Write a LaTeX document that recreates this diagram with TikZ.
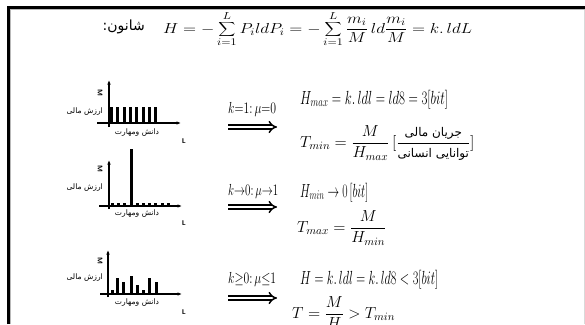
\RequirePackage{fix-cm}
\documentclass[tikz,border=0pt]{standalone}
\usepackage{fontspec}
\usepackage{graphicx}
\usetikzlibrary{arrows.meta}
\newfontfamily\fafont[Script=Arabic]{DejaVu Sans}
\TeXXeTstate=1
\newcommand{\fitw}[2]{\resizebox{#1}{\height}{#2}}
\tikzset{
  axisline/.style={line width=1.1pt, -{Latex[length=4.5pt,width=3.6pt]}},
  implies/.style={double, double distance=2.6pt, line width=1.5pt, -{Implies}},
  eqn/.style={inner sep=0pt, anchor=base west},
  falbl/.style={inner sep=0pt, font=\fontsize{7.6}{8}\selectfont\fafont},
  axlbl/.style={inner sep=0pt, font=\fontsize{7}{7}\selectfont\bfseries\sffamily},
}
\begin{document}
\begin{tikzpicture}[x=1pt,y=-1pt]
\useasboundingbox (0,0) rectangle (585,324);
\clip (0,0) rectangle (585,324);
\fill[white] (0,0) rectangle (585,324);
% frame
\draw[gray!55, line width=0.8pt] (10.6,324) |- (585,9.6);
\draw[gray!30, line width=0.8pt] (584.5,9.6) -- (584.5,324);
\draw[line width=3pt] (8.5,324) |- (585,7);

% title
\node[inner sep=0pt, anchor=east, font=\fontsize{14}{15}\selectfont\fafont] (shanon) at (145,27) {\beginR شانون:\endR};
\node[eqn] (shannoneq) at (163,33) {\fitw{309pt}{\fontsize{14.5}{17}\selectfont
  $\displaystyle H = -\sum_{i=1}^{L} P_i ldP_i = -\sum_{i=1}^{L}\frac{m_i}{M}\,ld\frac{m_i}{M} = k.\,ldL$}};

% ---------- graph 1
\draw[axisline] (109,127) -- (109,80);
\draw[axisline] (97,123) -- (181,123);
\foreach \i in {0,...,7} \fill ({110+\i*6.3},107) rectangle ++(3,16);
\node[axlbl, rotate=-90] (m1) at (100,93) {M};
\node[falbl, anchor=east] (v1) at (103,112) {\beginR ارزش مالی\endR};
\node[falbl] (s1) at (137,133) {\beginR دانش ومهارت\endR};
\node[axlbl] (l1) at (184,141) {L};

% ---------- graph 2
\draw[axisline] (109,209) -- (109,160);
\draw[axisline] (99,206) -- (182,206);
\foreach \x in {111,117,123,136,142,148,154,161,167} \fill (\x,202.5) rectangle ++(3,3.5);
\fill (129.5,149) rectangle (132.5,206);
\node[axlbl, rotate=-90] (m2) at (100,169) {M};
\node[falbl, anchor=east] (v2) at (103,188) {\beginR ارزش مالی\endR};
\node[falbl] (s2) at (137,214) {\beginR دانش ومهارت\endR};
\node[axlbl] (l2) at (184,223) {L};

% ---------- graph 3
\draw[axisline] (108,297) -- (108,250);
\draw[axisline] (100,294) -- (182,294);
\foreach \x/\t in {110.5/290,116/278,122/282,129.5/276,135.5/285,141.5/290,147.5/278,154.5/282}
  \fill (\x,\t) rectangle (\x+3,294);
\node[axlbl, rotate=-90] (m3) at (100,261) {M};
\node[falbl, anchor=east] (v3) at (103,278) {\beginR ارزش مالی\endR};
\node[falbl] (s3) at (137,303) {\beginR دانش ومهارت\endR};
\node[axlbl] (l3) at (184,312) {L};

% ---------- row 1
\node[eqn] (k1) at (228,113) {\fitw{48pt}{\fontsize{16}{18}\selectfont $k{=}1{:}\,\mu{=}0$}};
\coordinate (a1s) at (228,127);
\coordinate (a1e) at (277,127);
\draw[implies] (a1s) -- (a1e);
\node[eqn] (h1) at (300,104) {\fitw{148pt}{\fontsize{19}{22}\selectfont $H_{max} = k.\,ldl = ld8 = 3[bit]$}};
\node[eqn] (t1) at (300,147) {\fontsize{16}{19}\selectfont
  $\displaystyle T_{min} = \frac{M}{H_{max}}\,\Bigl[\frac{\mbox{\fontsize{12}{13}\selectfont\fafont\beginR جریان مالی\endR}}{\mbox{\fontsize{12}{13}\selectfont\fafont\beginR توانایی انسانی\endR}}\Bigr]$};

% ---------- row 2
\node[eqn] (k2) at (228,195) {\fitw{50pt}{\fontsize{16}{18}\selectfont $k{\to}0{:}\,\mu{\to}1$}};
\coordinate (a2s) at (228,207);
\coordinate (a2e) at (277,207);
\draw[implies] (a2s) -- (a2e);
\node[eqn] (h2) at (300,197) {\fitw{68pt}{\fontsize{19}{22}\selectfont $H_{min} \to 0\,[bit]$}};
\node[eqn] (t2) at (297,232) {\fontsize{16}{19}\selectfont $\displaystyle T_{max} = \frac{M}{H_{min}}$};

% ---------- row 3
\node[eqn] (k3) at (228,283) {\fitw{48pt}{\fontsize{16}{18}\selectfont $k{\geq}0{:}\,\mu{\leq}1$}};
\coordinate (a3s) at (228,298);
\coordinate (a3e) at (277,298);
\draw[implies] (a3s) -- (a3e);
\node[eqn] (h3) at (300,284) {\fitw{138pt}{\fontsize{19}{22}\selectfont $H = k.\,ldl = k.\,ld8 < 3[bit]$}};
\node[eqn] (t3) at (292,318) {\fontsize{16}{19}\selectfont $\displaystyle T = \frac{M}{H} > T_{min}$};
\end{tikzpicture}
\end{document}
